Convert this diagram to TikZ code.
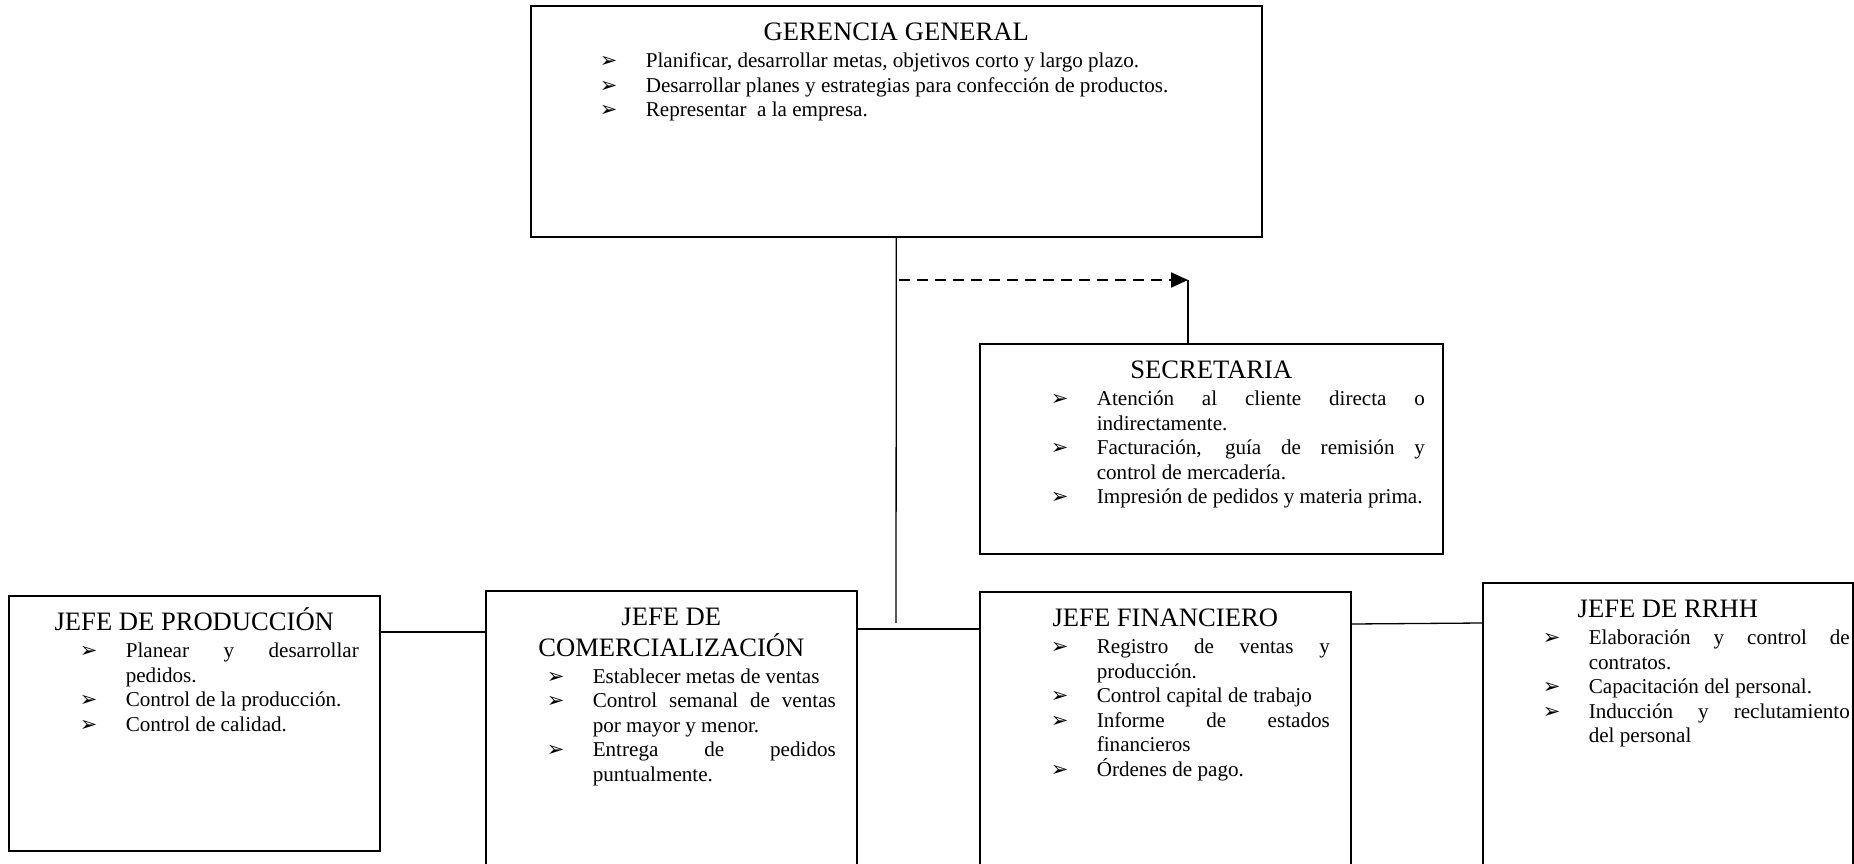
\documentclass[tikz,border=0pt]{standalone}
\usepackage{fontspec}
\setmainfont{Liberation Serif}
\newfontfamily\flecha{DejaVu Sans}
\usepackage{tikz}
\usetikzlibrary{arrows.meta, positioning}

% Viñeta y contenido de cada recuadro
\newcommand{\tarea}[1]{\noindent\hspace*{-46pt}\makebox[46pt][l]{\flecha\fontsize{21pt}{21pt}\selectfont ➢}#1\par}
\newcommand{\cargo}[6]{%
  \begin{minipage}[t][#2][t]{#1}
    \hyphenpenalty=10000 \exhyphenpenalty=10000 \tolerance=10000 \hbadness=10000
    {\centering\fontsize{26.6pt}{30.5pt}\selectfont\rule{0pt}{35pt}#5\par}
    \vspace{2.5pt}
    \leftskip=#3 \rightskip=#4
    \fontsize{21.1pt}{24.5pt}\selectfont
    #6
  \end{minipage}}

\begin{document}
\begin{tikzpicture}[x=1pt, y=-1pt,
    caja/.style={draw, line width=1.6pt, inner sep=0pt, anchor=north west},
    linea/.style={line width=1.3pt},
    discontinua/.style={line width=2pt, dash pattern=on 11pt off 7pt,
        -{Triangle[length=17pt, width=15pt]}}]
    \useasboundingbox (0,0) rectangle (1854,864);
    \clip (0,0) rectangle (1854,864);

    % Gerencia y secretaria
    \node[caja] (ger) at (530,5) {\cargo{731pt}{231pt}{115pt}{21pt}{GERENCIA GENERAL}{
        \tarea{Planificar, desarrollar metas, objetivos corto y largo plazo.}
        \tarea{Desarrollar planes y estrategias para confección de productos.}
        \tarea{Representar~ a la empresa.}}};
    \node[caja] (sec) at (979,343) {\cargo{463pt}{210pt}{117pt}{18pt}{SECRETARIA}{
        \tarea{Atención al cliente directa o\linebreak indirectamente.}
        \tarea{Facturación, guía de remisión y\linebreak control de mercadería.}
        \tarea{Impresión de pedidos y materia prima.}}};

    % Jefaturas
    \node[caja] (prod) at (8,595) {\cargo{371pt}{255pt}{117pt}{21pt}{JEFE DE PRODUCCIÓN}{
        \tarea{Planear y desarrollar\linebreak pedidos.}
        \tarea{Control de la producción.}
        \tarea{Control de calidad.}}};
    \node[caja] (com) at (485,590) {\cargo{371pt}{284pt}{107pt}{21pt}{JEFE DE\\COMERCIALIZACIÓN}{
        \tarea{Establecer metas de ventas}
        \tarea{Control semanal de ventas\linebreak por mayor y menor.}
        \tarea{Entrega de pedidos\linebreak puntualmente.}}};
    \node[caja] (fin) at (979,591) {\cargo{371pt}{283pt}{117pt}{21pt}{JEFE FINANCIERO}{
        \tarea{Registro de ventas y\linebreak producción.}
        \tarea{Control capital de trabajo}
        \tarea{Informe de estados\linebreak financieros}
        \tarea{Órdenes de pago.}}};
    \node[caja] (rrhh) at (1482,582) {\cargo{370pt}{292pt}{106pt}{3pt}{JEFE DE RRHH}{
        \tarea{Elaboración y control de\linebreak contratos.}
        \tarea{Capacitación del personal.}
        \tarea{Inducción y reclutamiento\linebreak del personal}}};

    % Conectores
    \coordinate (nudo) at (896,623);
    \coordinate (punta) at (1188,280);
    \draw[linea] (ger.south) -- (nudo);
    \draw[discontinua] ([xshift=3pt]ger.south |- punta) -- (punta);
    \draw[linea] (punta) -- (punta |- sec.north);
    \draw[linea] ([yshift=-37pt]prod.north east) -- ([yshift=-42pt]com.north west);
    \draw[linea] ([yshift=-39pt]com.north east) -- ([yshift=-38pt]fin.north west);
    \draw[linea] ([yshift=-33pt]fin.north east) -- ([yshift=-41pt]rrhh.north west);

\end{tikzpicture}
\end{document}
